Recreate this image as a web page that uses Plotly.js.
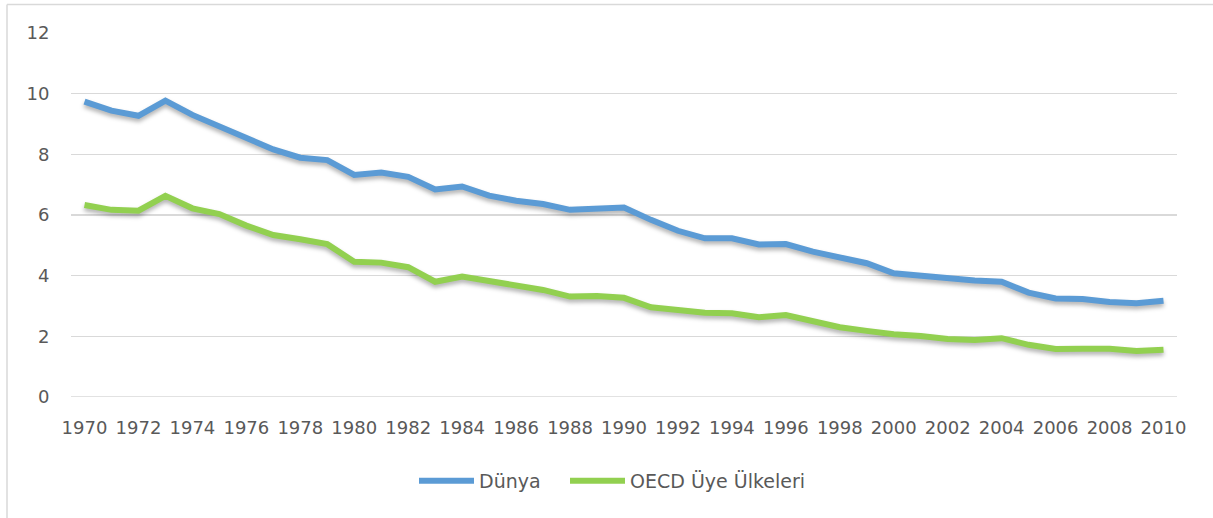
<!DOCTYPE html>
<html>
<head>
<meta charset="utf-8">
<script src="https://cdn.plot.ly/plotly-3.0.1.min.js"></script>
<style>
html, body { margin: 0; padding: 0; background: #fff; }
#chart { width: 1213px; height: 518px; }
.scatterlayer .js-line { filter: drop-shadow(0px 3px 2px rgba(0,0,0,0.30)); }
</style>
</head>
<body>
<div id="chart"></div>
<script>
const years = [1970,1971,1972,1973,1974,1975,1976,1977,1978,1979,
               1980,1981,1982,1983,1984,1985,1986,1987,1988,1989,
               1990,1991,1992,1993,1994,1995,1996,1997,1998,1999,
               2000,2001,2002,2003,2004,2005,2006,2007,2008,2009,2010];
const dunya = [9.74,9.44,9.27,9.77,9.30,8.91,8.53,8.16,7.89,7.81,
               7.32,7.40,7.26,6.84,6.94,6.64,6.47,6.36,6.17,6.21,
               6.25,5.84,5.48,5.23,5.23,5.03,5.04,4.79,4.58,4.41,
               4.08,3.99,3.91,3.84,3.80,3.44,3.25,3.23,3.13,3.09,3.17];
const oecd  = [6.33,6.17,6.14,6.63,6.22,6.03,5.65,5.34,5.20,5.04,
               4.46,4.43,4.28,3.80,3.97,3.82,3.67,3.53,3.31,3.33,
               3.27,2.96,2.87,2.78,2.76,2.63,2.70,2.52,2.30,2.18,
               2.07,2.01,1.91,1.88,1.94,1.72,1.58,1.59,1.59,1.52,1.56];
const seriesNames = ['Dünya', 'OECD Üye Ülkeleri'];
const yTicks = [0,2,4,6,8,10,12];
const xTicks = years.filter(y => (y - 1970) % 2 === 0);

const fontFamily = 'DejaVu Sans, sans-serif';
const textColor = '#595959';
const gridColor = '#d9d9d9';

const traces = [
  { x: years, y: dunya, name: seriesNames[0], type: 'scatter', mode: 'lines',
    line: { color: '#5B9BD5', width: 6 }, legend: 'legend' },
  { x: years, y: oecd, name: seriesNames[1], type: 'scatter', mode: 'lines',
    line: { color: '#92D050', width: 6 }, legend: 'legend2' }
];

const L = 71, R = 1177, T = 33, B = 397;
const pw = R - L, ph = B - T;
const px = v => (v - L) / pw;
const py = v => (B - v) / ph;

const legendBase = {
  orientation: 'h', xanchor: 'left', y: py(481), yanchor: 'middle',
  font: { family: fontFamily, size: 19, color: textColor },
  itemwidth: 55, bgcolor: 'rgba(0,0,0,0)'
};

const layout = {
  width: 1213, height: 518,
  margin: { l: L, r: 1213 - R, t: T, b: 518 - B, pad: 0 },
  paper_bgcolor: '#ffffff', plot_bgcolor: '#ffffff',
  font: { family: fontFamily, size: 18, color: textColor },
  showlegend: true,
  legend: Object.assign({}, legendBase, { x: px(414) }),
  legend2: Object.assign({}, legendBase, { x: px(565) }),
  xaxis: {
    range: [1969.5, 2010.5], tickmode: 'array', tickvals: xTicks,
    ticktext: xTicks.map(String),
    showgrid: false, zeroline: false, showline: false,
    ticks: 'outside', ticklen: 14, tickcolor: 'rgba(0,0,0,0)',
    tickfont: { family: fontFamily, size: 18, color: textColor },
    fixedrange: true
  },
  yaxis: {
    range: [0, 12], tickmode: 'array', tickvals: yTicks,
    showgrid: true, gridcolor: gridColor, gridwidth: 1.5,
    zeroline: false, showline: false,
    ticks: 'outside', ticklen: 17, tickcolor: 'rgba(0,0,0,0)',
    tickfont: { family: fontFamily, size: 18, color: textColor },
    fixedrange: true
  },
  shapes: [
    { type: 'line', xref: 'paper', yref: 'paper', x0: px(7), x1: px(1213), y0: py(4.5), y1: py(4.5),
      line: { color: gridColor, width: 1.5 }, layer: 'below' },
    { type: 'line', xref: 'paper', yref: 'paper', x0: px(7), x1: px(7), y0: py(4.5), y1: py(518),
      line: { color: gridColor, width: 1.5 }, layer: 'below' },
    { type: 'line', xref: 'paper', yref: 'y', x0: 0, x1: 1, y0: 0, y1: 0,
      line: { color: gridColor, width: 1.5 }, layer: 'below' }
  ]
};

Plotly.newPlot('chart', traces, layout, { displayModeBar: false, staticPlot: true });
</script>
</body>
</html>
